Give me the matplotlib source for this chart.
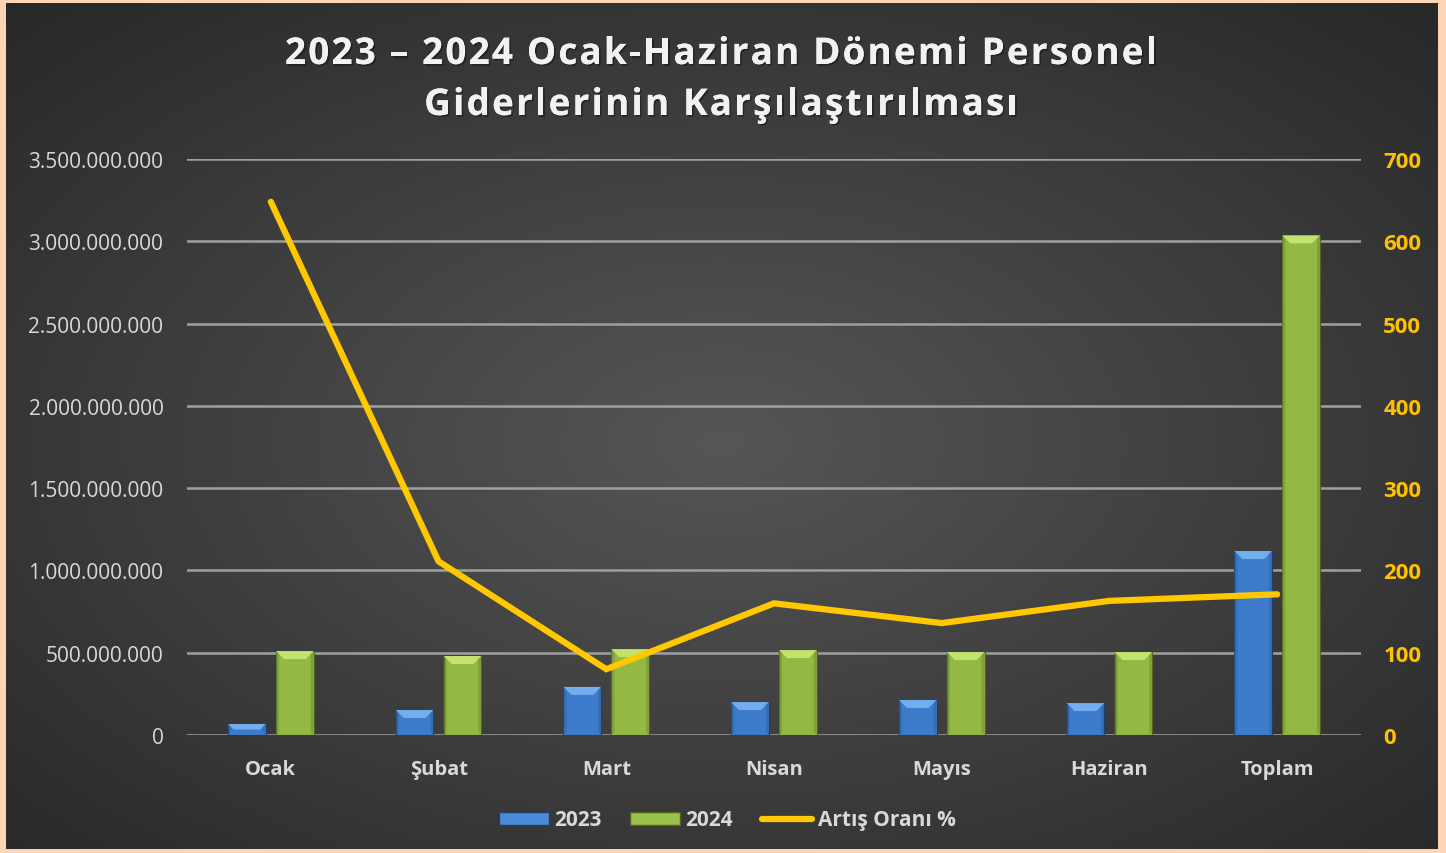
import numpy as np
import matplotlib
matplotlib.use("Agg")
import matplotlib.pyplot as plt
from matplotlib.patches import Polygon, Rectangle
from matplotlib.lines import Line2D
from matplotlib.ticker import FuncFormatter
import matplotlib.patheffects as pe

categories = ["Ocak", "Şubat", "Mart", "Nisan", "Mayıs", "Haziran", "Toplam"]
values_2023 = [67e6, 152e6, 292e6, 200e6, 213e6, 194e6, 1118e6]
values_2024 = [510e6, 480e6, 522e6, 516e6, 504e6, 504e6, 3036e6]
artis_orani = [648, 211, 80, 160, 136, 163, 171]
left_ticks = [0, 5e8, 1e9, 1.5e9, 2e9, 2.5e9, 3e9, 3.5e9]
right_ticks = [0, 100, 200, 300, 400, 500, 600, 700]
title_lines = ["2023 – 2024 Ocak-Haziran Dönemi Personel", "Giderlerinin Karşılaştırılması"]

W, H = 1446, 854
fig = plt.figure(figsize=(W / 100, H / 100), dpi=100)
fig.patch.set_facecolor("#FCD5B5")

# background radial gradient
bg = fig.add_axes([6 / W, 4 / H, (W - 14) / W, (H - 8) / H])
yy, xx = np.mgrid[0:1:300j, 0:1:500j]
r = np.sqrt(((xx - 0.5) / 0.75) ** 2 + ((yy - 0.52) / 0.75) ** 2)
r = np.clip(r, 0, 1)
c0 = np.array([0x56, 0x56, 0x56]) / 255
c1 = np.array([0x26, 0x26, 0x26]) / 255
img = c0[None, None, :] * (1 - r[..., None]) + c1[None, None, :] * r[..., None]
bg.imshow(img, aspect="auto", extent=[0, 1, 0, 1], interpolation="bilinear")
bg.set_axis_off()

x0, x1, ytop, ybot = 187, 1361, 160, 736
ax = fig.add_axes([x0 / W, (H - ybot) / H, (x1 - x0) / W, (ybot - ytop) / H])
ax.patch.set_alpha(0)
ax.set_ylim(0, 3.5e9)
ax.set_xlim(-0.5, len(categories) - 0.5)
for s in ax.spines.values():
    s.set_visible(False)
ax.set_yticks(left_ticks)
ax.yaxis.set_major_formatter(FuncFormatter(lambda v, p: f"{int(v):,}".replace(",", ".")))
ax.grid(axis="y", color="#A0A0A0", linewidth=1.8)
ax.set_axisbelow(True)
ax.tick_params(axis="y", length=0, pad=17, labelsize=15, labelcolor="#D9D9D9")
ax.tick_params(axis="x", length=0, pad=17, labelsize=14.5, labelcolor="#D9D9D9")
ax.set_xticks(range(len(categories)))
ax.set_xticklabels(categories, fontweight="bold", family="Open Sans")
for t in ax.get_yticklabels():
    t.set_family("Open Sans")

xs = np.arange(len(categories))
bw = 0.225
off = 0.143
b1 = ax.bar(xs - off, values_2023, bw, color="#3D7BCB", edgecolor="#1F3F6A", linewidth=0.8, zorder=3)
b2 = ax.bar(xs + off, values_2024, bw, color="#93B843", edgecolor="#4E6321", linewidth=0.8, zorder=3)

fig.canvas.draw()
renderer = fig.canvas.get_renderer()

# bevel effect
def bevel(bars, top_col, side_col):
    for b in bars:
        (px0, py0), (px1, py1) = ax.transData.transform([(b.get_x(), 0), (b.get_x() + b.get_width(), b.get_height())])
        d = min(8, (py1 - py0) / 2)
        ax.add_patch(Polygon([(px0, py1), (px1, py1), (px1 - d, py1 - d), (px0 + d, py1 - d)],
                             closed=True, transform=None, facecolor=top_col, edgecolor="none", zorder=4))
        for poly in ([(px0, py0), (px0 + 3, py0 + 3), (px0 + 3, py1 - 3), (px0, py1)],
                     [(px1, py0), (px1 - 3, py0 + 3), (px1 - 3, py1 - 3), (px1, py1)]):
            ax.add_patch(Polygon(poly, closed=True, transform=None, facecolor=side_col,
                                 edgecolor="none", zorder=4, alpha=0.5))
bevel(b1, "#72AEEE", "#2E5E9C")
bevel(b2, "#C4E26E", "#6F8A30")

ax2 = ax.twinx()
ax2.set_ylim(0, 700)
ax2.set_yticks(right_ticks)
for s in ax2.spines.values():
    s.set_visible(False)
ax2.tick_params(axis="y", length=0, pad=16, labelsize=16, labelcolor="#FFC000")
for t in ax2.get_yticklabels():
    t.set_fontweight("bold")
    t.set_family("Open Sans")
ax2.plot(xs, artis_orani, color="#FFC800", linewidth=4.5, solid_capstyle="round", solid_joinstyle="miter", zorder=5)

# letter-spaced title
tprops = dict(color="#F2F2F2", fontsize=26.5, fontweight="bold", family="Open Sans", va="baseline", ha="left")
shadow = [pe.withSimplePatchShadow(offset=(1.2, -1.2), shadow_rgbFace="black", alpha=0.35), pe.Normal()]

def char_widths(s):
    ws = []
    for ch in s:
        if ch == " ":
            t = fig.text(0, 0, "a a", **tprops)
            t2 = fig.text(0, 0, "aa", **tprops)
            w = t.get_window_extent(renderer).width - t2.get_window_extent(renderer).width
            t.remove(); t2.remove()
        else:
            t = fig.text(0, 0, ch, **tprops)
            w = t.get_window_extent(renderer).width
            t.remove()
        ws.append(w)
    return ws

line1_target = 872.0
ws1 = char_widths(title_lines[0])
spacing = (line1_target - sum(ws1)) / (len(ws1) - 1)
for line, yb in zip(title_lines, [65, 116]):
    ws = char_widths(line)
    total = sum(ws) + spacing * (len(ws) - 1)
    x = 721 - total / 2
    for ch, w in zip(line, ws):
        if ch != " ":
            t = fig.text(x / W, 1 - yb / H, ch, **tprops)
            t.set_path_effects(shadow)
        x += w + spacing

# legend
handles = [Rectangle((0, 0), 1, 1, facecolor="#4A8AD8", edgecolor="#1F3F6A"),
           Rectangle((0, 0), 1, 1, facecolor="#9CC24B", edgecolor="#4E6321"),
           Line2D([0], [0], color="#FFC800", linewidth=4.5, solid_capstyle="round")]
leg = fig.legend(handles, ["2023", "2024", "Artış Oranı %"], loc="center", bbox_to_anchor=(727 / W, 1 - 821 / H),
                 ncol=3, frameon=False, handlelength=2.4, handleheight=0.6, handletextpad=0.25, columnspacing=1.4,
                 prop={"family": "Open Sans", "weight": "bold", "size": 15})
for t in leg.get_texts():
    t.set_color("#D9D9D9")

fig.savefig("out.png", dpi=100, facecolor=fig.get_facecolor())
